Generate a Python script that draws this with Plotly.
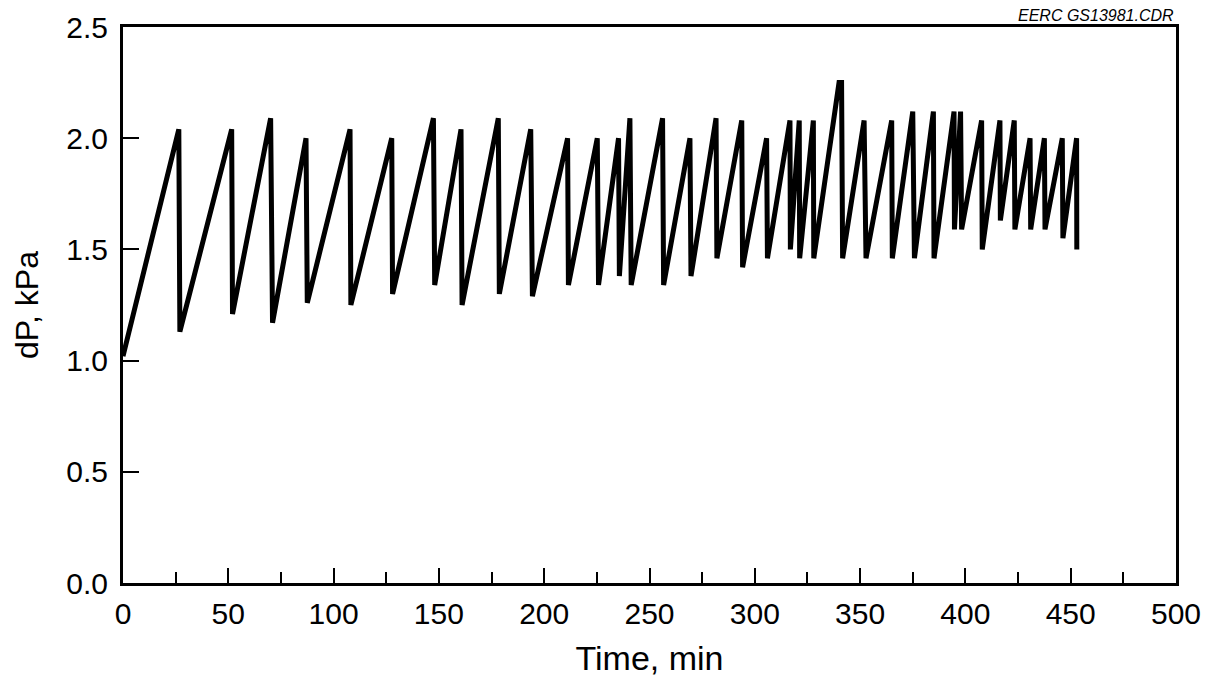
import plotly.graph_objects as go

# Time (min) and differential pressure (kPa)
time_min = [0, 26.5, 27.0, 51.6, 52.0, 70.1, 71.0, 86.9, 87.5, 107.8, 108.2,
            127.6, 128.0, 147.4, 148.0, 160.5, 161.0, 178.2, 178.7, 193.6, 194.4,
            211.1, 211.5, 225.2, 225.8, 235.3, 235.7, 240.7, 241.3, 256.2, 256.7,
            269.2, 269.7, 281.6, 282.0, 293.8, 294.2, 305.6, 306.0, 316.7, 316.9,
            321.1, 321.3, 327.8, 328.0, 340.0, 341.2, 341.7, 351.9, 352.8, 365.0,
            365.3, 375.0, 375.8, 384.8, 385.1, 394.6, 394.8, 397.7, 398.2, 407.7,
            408.0, 416.4, 416.6, 423.2, 423.5, 430.7, 431.0, 437.5, 437.8, 446.0,
            446.3, 452.8, 452.9]
dp_kpa = [1.02, 2.04, 1.13, 2.04, 1.21, 2.09, 1.17, 2.00, 1.26, 2.04, 1.25,
          2.00, 1.30, 2.09, 1.34, 2.04, 1.25, 2.09, 1.30, 2.04, 1.29,
          2.00, 1.34, 2.00, 1.34, 2.00, 1.38, 2.09, 1.34, 2.09, 1.34,
          2.00, 1.38, 2.09, 1.46, 2.08, 1.42, 2.00, 1.46, 2.08, 1.50,
          2.08, 1.46, 2.08, 1.46, 2.25, 2.25, 1.46, 2.08, 1.46, 2.08,
          1.46, 2.12, 1.46, 2.12, 1.46, 2.12, 1.59, 2.12, 1.59, 2.08,
          1.50, 2.08, 1.63, 2.08, 1.59, 2.00, 1.59, 2.00, 1.59, 2.00,
          1.55, 2.00, 1.50]

x_ticks = [0, 50, 100, 150, 200, 250, 300, 350, 400, 450, 500]
y_ticks = [0.0, 0.5, 1.0, 1.5, 2.0, 2.5]
y_tick_text = ["0.0", "0.5", "1.0", "1.5", "2.0", "2.5"]

FONT = "Liberation Sans, Arial, Helvetica, sans-serif"

fig = go.Figure()
fig.add_trace(go.Scatter(
    x=time_min, y=dp_kpa, mode="lines",
    line=dict(color="black", width=5),
    hoverinfo="x+y", showlegend=False,
))

# the page body adds an 8 px offset, so the figure is sized 16 px smaller
fig.update_layout(
    width=1195, height=669,
    margin=dict(l=115, r=27, t=19, b=94),
    paper_bgcolor="white", plot_bgcolor="white",
    font=dict(family=FONT, color="black", size=30),
    xaxis=dict(
        range=[0, 500], tickvals=x_ticks, ticktext=[str(v) for v in x_ticks],
        ticks="inside", ticklen=15, tickwidth=2, tickcolor="black",
        minor=dict(dtick=25, tick0=0, ticks="inside", ticklen=11, tickwidth=2, tickcolor="black"),
        showgrid=False, zeroline=False, automargin=False,
        showline=True, linecolor="black", linewidth=3, mirror=True,
        tickfont=dict(size=30), ticklabelstandoff=2,
        title=dict(text="Time, min", font=dict(size=34), standoff=24),
    ),
    yaxis=dict(
        range=[0, 2.5], tickvals=y_ticks, ticktext=y_tick_text,
        ticks="inside", ticklen=16, tickwidth=2, tickcolor="black",
        showgrid=False, zeroline=False, automargin=False,
        showline=True, linecolor="black", linewidth=3, mirror=True,
        tickfont=dict(size=30), ticklabelstandoff=6,
        title=dict(text="dP, kPa", font=dict(size=32), standoff=19),
    ),
    annotations=[dict(
        text="<i>EERC GS13981.CDR</i>", x=1.0, y=1.0, xref="paper", yref="paper",
        xanchor="right", yanchor="bottom", showarrow=False, yshift=1, xshift=0,
        font=dict(size=16, family=FONT),
    )],
)

fig.write_html("out.html")
